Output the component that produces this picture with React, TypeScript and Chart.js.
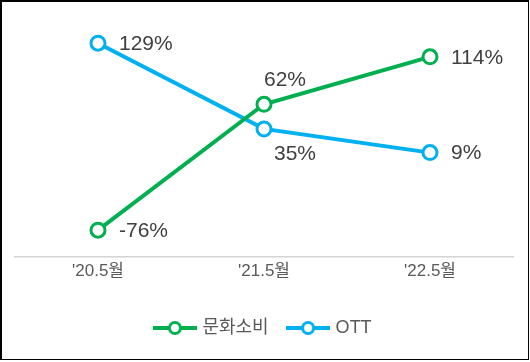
import React, { useEffect, useRef } from "react";
import { Chart, registerables } from "chart.js";

Chart.register(...registerables);

const categories = ["'20.5월", "'21.5월", "'22.5월"];
const seriesNames = ["문화소비", "OTT"];
const cultureValues = [-76, 62, 114];
const ottValues = [129, 35, 9];
const colors = ["#00B050", "#00B0F0"];
// label placement per point (style only)
const labelPlacement = [
  ["right", "above", "right"],
  ["right", "below", "right"],
];

const FONT = '"Liberation Sans", Arial, "Noto Sans CJK KR", sans-serif';

function makeIcon(color: string): HTMLCanvasElement {
  const c = document.createElement("canvas");
  c.width = 44;
  c.height = 20;
  const ctx = c.getContext("2d")!;
  ctx.strokeStyle = color;
  ctx.lineWidth = 4;
  ctx.beginPath();
  ctx.moveTo(0, 10);
  ctx.lineTo(44, 10);
  ctx.stroke();
  ctx.beginPath();
  ctx.arc(22, 10, 5.5, 0, Math.PI * 2);
  ctx.fillStyle = "#fff";
  ctx.fill();
  ctx.lineWidth = 3;
  ctx.stroke();
  return c;
}

const dataLabelPlugin = {
  id: "dataLabels",
  afterDatasetsDraw(chart: any) {
    const ctx = chart.ctx;
    ctx.save();
    ctx.font = `21px ${FONT}`;
    ctx.fillStyle = "#404040";
    chart.data.datasets.forEach((ds: any, di: number) => {
      const meta = chart.getDatasetMeta(di);
      meta.data.forEach((pt: any, i: number) => {
        const txt = `${ds.data[i]}%`;
        const pos = labelPlacement[di][i];
        if (pos === "right") {
          ctx.textAlign = "left";
          ctx.textBaseline = "middle";
          ctx.fillText(txt, pt.x + 21, pt.y + 1);
        } else if (pos === "above") {
          ctx.textAlign = "center";
          ctx.textBaseline = "middle";
          ctx.fillText(txt, pt.x + 21, pt.y - 24);
        } else {
          ctx.textAlign = "center";
          ctx.textBaseline = "middle";
          ctx.fillText(txt, pt.x + 31, pt.y + 25);
        }
      });
    });
    ctx.restore();
  },
};

export default function App() {
  const ref = useRef<HTMLCanvasElement>(null);
  useEffect(() => {
    document.body.style.margin = "0";
    const icons = colors.map(makeIcon);
    const chart = new Chart(ref.current!, {
      type: "line",
      data: {
        labels: categories,
        datasets: [
          {
            label: seriesNames[0],
            data: cultureValues,
            borderColor: colors[0],
            backgroundColor: "#fff",
            borderWidth: 4,
            pointRadius: 7,
            pointBorderWidth: 3,
            pointBackgroundColor: "#fff",
            pointBorderColor: colors[0],
          },
          {
            label: seriesNames[1],
            data: ottValues,
            borderColor: colors[1],
            backgroundColor: "#fff",
            borderWidth: 4,
            pointRadius: 7,
            pointBorderWidth: 3,
            pointBackgroundColor: "#fff",
            pointBorderColor: colors[1],
          },
        ],
      },
      options: {
        responsive: false,
        animation: false,
        layout: { padding: { left: 15, right: 17, top: 24, bottom: 15 } },
        scales: {
          x: {
            offset: true,
            grid: { display: false, drawTicks: false },
            border: { display: true, color: "#d4d4d4", width: 1.5 },
            ticks: { color: "#595959", font: { family: FONT, size: 17 }, padding: 5 },
            afterFit: (s: any) => {
              s.height += 11;
            },
          },
          y: {
            display: false,
            min: -105,
            max: 150,
          },
        },
        plugins: {
          tooltip: { enabled: false },
          legend: {
            position: "bottom",
            labels: {
              usePointStyle: true,
              pointStyleWidth: 37,
              padding: 21,
              color: "#595959",
              font: { family: FONT, size: 18 },
              generateLabels: (c: any) =>
                Chart.defaults.plugins.legend.labels
                  .generateLabels(c)
                  .map((l: any, i: number) => ({ ...l, pointStyle: icons[i] })),
            },
          },
        },
      },
      plugins: [dataLabelPlugin],
    });
    return () => chart.destroy();
  }, []);
  return (
    <div style={{ position: "fixed", left: 0, top: 0, width: 530, height: 362, background: "#fff" }}>
      <canvas ref={ref} width={530} height={362} style={{ position: "absolute", left: 0, top: 0 }} />
      <div
        style={{
          position: "absolute",
          left: 0,
          top: 0,
          width: 529,
          height: 360,
          boxSizing: "border-box",
          borderLeft: "2px solid #000",
          borderTop: "2px solid #000",
          borderRight: "1px solid #000",
          borderBottom: "1px solid #000",
          pointerEvents: "none",
        }}
      />
    </div>
  );
}
